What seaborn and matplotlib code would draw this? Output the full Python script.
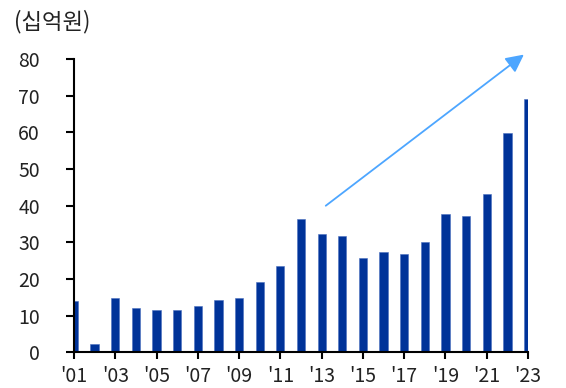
import matplotlib
matplotlib.use("Agg")
import matplotlib.pyplot as plt
import seaborn as sns
import pandas as pd

# Annual values (십억원), 2001-2023
years = ["'01", "'02", "'03", "'04", "'05", "'06", "'07", "'08", "'09", "'10", "'11", "'12",
         "'13", "'14", "'15", "'16", "'17", "'18", "'19", "'20", "'21", "'22", "'23"]
values = [14.1, 2.2, 14.8, 12.0, 11.5, 11.5, 12.6, 14.3, 14.8, 19.1, 23.5, 36.5,
          32.2, 31.7, 25.7, 27.3, 26.8, 30.0, 37.7, 37.1, 43.1, 59.9, 69.0]
unit_label = "(십억원)"
y_ticks = [0, 10, 20, 30, 40, 50, 60, 70, 80]

# Trend arrow endpoints (category index, value)
arrow_start = (12.2, 40.0)
arrow_end = (21.8, 81.2)

sns.set_theme(style="white")
plt.rcParams["font.family"] = ["Noto Sans CJK KR", "DejaVu Sans"]

df = pd.DataFrame({"year": years, "value": values})

fig = plt.figure(figsize=(5.66, 3.88), dpi=100)
ax = fig.add_axes([0.1307, 0.0915, 0.8022, 0.7565])

sns.barplot(data=df, x="year", y="value", color="#003399", width=0.4,
            saturation=1, ax=ax, edgecolor="#4a6fc0", linewidth=0.4)

ax.set_xlim(0, len(years) - 1)
ax.set_ylim(0, 80)
ax.set_yticks(y_ticks)
ax.set_yticklabels([str(v) for v in y_ticks])
ax.set_xticks(range(0, len(years), 2))
ax.set_xticklabels(years[::2])
ax.set_xlabel("")
ax.set_ylabel("")

for side in ("top", "right"):
    ax.spines[side].set_visible(False)
for side in ("left", "bottom"):
    ax.spines[side].set_color("black")
    ax.spines[side].set_linewidth(1.5)

ax.tick_params(axis="y", direction="out", length=5.5, width=1.5, color="black",
               pad=19, labelsize=14, labelcolor="#222222", left=True)
ax.tick_params(axis="x", direction="out", length=5, width=1.5, color="black",
               pad=5, labelsize=14, labelcolor="#222222", bottom=True)

ax.annotate("", xy=arrow_end, xytext=arrow_start, xycoords="data",
            annotation_clip=False,
            arrowprops=dict(arrowstyle="-|>,head_length=0.9,head_width=0.45",
                            color="#4da6ff", lw=1.3, shrinkA=0, shrinkB=0))

fig.text(0.024, 0.975, unit_label, ha="left", va="top", fontsize=16, color="#222222")

fig.savefig("out.png", dpi=100)
